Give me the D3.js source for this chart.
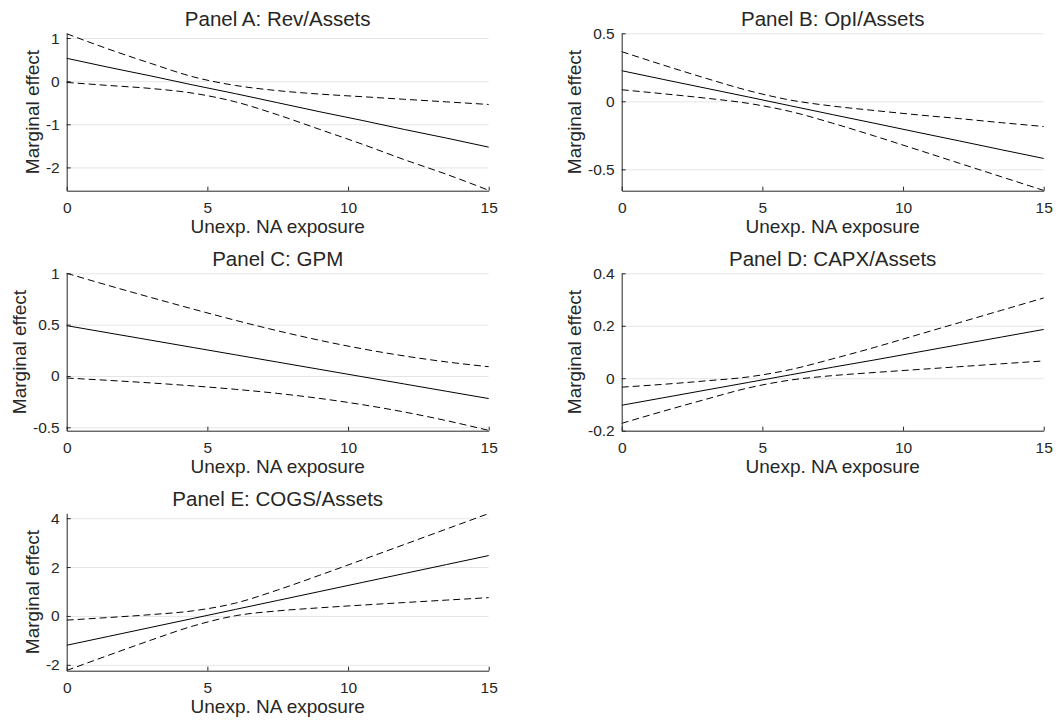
<!DOCTYPE html>
<html>
<head>
<meta charset="utf-8">
<script src="https://cdn.jsdelivr.net/npm/d3@7"></script>
<style>
  body { margin: 0; background: #fff; }
  svg text { font-family: "Liberation Sans", Arial, sans-serif; fill: #262626; }
</style>
</head>
<body>
<div id="chart"></div>
<script>
// x grid shared by all panels
const xGrid = [0, 1.5, 3, 4.5, 6, 7.5, 9, 10.5, 12, 13.5, 15];
const xTicks = [0, 5, 10, 15];

// Panel A: Rev/Assets
const revMid = [0.53, 0.32, 0.12, -0.09, -0.29, -0.50, -0.71, -0.91, -1.12, -1.32, -1.53];
const revUpper = [1.10, 0.74, 0.41, 0.10, -0.10, -0.22, -0.30, -0.36, -0.42, -0.48, -0.54];
const revLower = [-0.03, -0.10, -0.17, -0.28, -0.48, -0.78, -1.12, -1.46, -1.82, -2.16, -2.53];
const revTicks = [-2, -1, 0, 1];
const revTickLabels = ["-2", "-1", "0", "1"];

// Panel B: OpI/Assets
const opiMid = [0.225, 0.16, 0.096, 0.032, -0.033, -0.098, -0.162, -0.227, -0.291, -0.356, -0.42];
const opiUpper = [0.365, 0.265, 0.169, 0.079, 0.009, -0.035, -0.068, -0.099, -0.127, -0.157, -0.185];
const opiLower = [0.085, 0.055, 0.023, -0.015, -0.075, -0.161, -0.256, -0.355, -0.455, -0.555, -0.655];
const opiTicks = [-0.5, 0, 0.5];
const opiTickLabels = ["-0.5", "0", "0.5"];

// Panel C: GPM
const gpmMid = [0.49, 0.419, 0.348, 0.277, 0.206, 0.135, 0.064, -0.007, -0.078, -0.149, -0.22];
const gpmUpper = [1.00, 0.88, 0.764, 0.651, 0.542, 0.44, 0.347, 0.265, 0.195, 0.137, 0.09];
const gpmLower = [-0.02, -0.043, -0.068, -0.097, -0.13, -0.17, -0.219, -0.279, -0.351, -0.435, -0.53];
const gpmTicks = [-0.5, 0, 0.5, 1];
const gpmTickLabels = ["-0.5", "0", "0.5", "1"];

// Panel D: CAPX/Assets
const capxMid = [-0.103, -0.074, -0.045, -0.016, 0.013, 0.042, 0.070, 0.099, 0.128, 0.157, 0.186];
const capxUpper = [-0.034, -0.023, -0.010, 0.005, 0.033, 0.074, 0.118, 0.165, 0.212, 0.259, 0.306];
const capxLower = [-0.172, -0.125, -0.080, -0.037, -0.007, 0.010, 0.022, 0.033, 0.044, 0.055, 0.066];
const capxTicks = [-0.2, 0, 0.2, 0.4];
const capxTickLabels = ["-0.2", "0", "0.2", "0.4"];

// Panel E: COGS/Assets
const cogsMid = [-1.20, -0.833, -0.466, -0.099, 0.268, 0.635, 1.002, 1.369, 1.736, 2.103, 2.47];
const cogsUpper = [-0.17, -0.063, 0.055, 0.211, 0.526, 1.063, 1.670, 2.294, 2.924, 3.557, 4.19];
const cogsLower = [-2.23, -1.603, -0.987, -0.409, 0.010, 0.207, 0.334, 0.444, 0.548, 0.649, 0.749];
const cogsTicks = [-2, 0, 2, 4];
const cogsTickLabels = ["-2", "0", "2", "4"];

const panels = [
    { title: "Panel A: Rev/Assets", mid: revMid, upper: revUpper, lower: revLower, ticks: revTicks, labels: revTickLabels, yDomain: [-2.54, 1.11], col: 0, row: 0 },
    { title: "Panel B: OpI/Assets", mid: opiMid, upper: opiUpper, lower: opiLower, ticks: opiTicks, labels: opiTickLabels, yDomain: [-0.657, 0.5], col: 1, row: 0 },
    { title: "Panel C: GPM", mid: gpmMid, upper: gpmUpper, lower: gpmLower, ticks: gpmTicks, labels: gpmTickLabels, yDomain: [-0.533, 1.0], col: 0, row: 1 },
    { title: "Panel D: CAPX/Assets", mid: capxMid, upper: capxUpper, lower: capxLower, ticks: capxTicks, labels: capxTickLabels, yDomain: [-0.2, 0.4], col: 1, row: 1 },
    { title: "Panel E: COGS/Assets", mid: cogsMid, upper: cogsUpper, lower: cogsLower, ticks: cogsTicks, labels: cogsTickLabels, yDomain: [-2.24, 4.2], col: 0, row: 2 }
];

const colLeft = [66.7, 621.7];
const rowTop = [33.3, 273.3, 513.3];
const width = 422;
const height = 157.4;
const axisColor = "#262626";

const svg = d3.select("#chart").append("svg")
    .attr("width", 1056)
    .attr("height", 724);

panels.forEach(p => {
    const g = svg.append("g")
        .attr("transform", `translate(${colLeft[p.col]},${rowTop[p.row]})`);

    const x = d3.scaleLinear().domain([0, 15]).range([0, width]);
    const y = d3.scaleLinear().domain(p.yDomain).range([height, 0]);

    // horizontal grid
    g.append("g")
        .call(d3.axisLeft(y).tickValues(p.ticks).tickSize(-width).tickFormat(""))
        .call(s => s.select(".domain").remove())
        .call(s => s.selectAll("line").attr("stroke", "#e5e5e5"));

    // lines
    const line = d3.line()
        .x((d, i) => x(xGrid[i]))
        .y(d => y(d))
        .curve(d3.curveMonotoneX);

    [p.upper, p.lower].forEach(band => {
        g.append("path")
            .datum(band)
            .attr("d", line)
            .attr("fill", "none")
            .attr("stroke", "#000")
            .attr("stroke-width", 1)
            .attr("stroke-dasharray", "7,4");
    });
    g.append("path")
        .datum(p.mid)
        .attr("d", line)
        .attr("fill", "none")
        .attr("stroke", "#000")
        .attr("stroke-width", 1);

    // axes
    const yAxis = g.append("g")
        .call(d3.axisLeft(y).tickValues(p.ticks)
            .tickFormat((d, i) => p.labels[i])
            .tickSizeInner(-4).tickSizeOuter(0).tickPadding(7));
    yAxis.selectAll("text").style("font-size", "15.5px");

    const xAxis = g.append("g")
        .attr("transform", `translate(0,${height})`)
        .call(d3.axisBottom(x).tickValues(xTicks)
            .tickSizeInner(-4).tickSizeOuter(0).tickPadding(11));
    xAxis.selectAll("text").style("font-size", "15.5px");

    [yAxis, xAxis].forEach(a => {
        a.select(".domain").attr("stroke", axisColor);
        a.selectAll(".tick line").attr("stroke", axisColor);
    });

    // y label placed just left of the widest tick label
    let maxW = 0;
    yAxis.selectAll("text").each(function () {
        maxW = Math.max(maxW, this.getComputedTextLength());
    });
    g.append("text")
        .attr("transform", `translate(${-(7 + maxW + 7)},${height / 2}) rotate(-90)`)
        .attr("text-anchor", "middle")
        .style("font-size", "19px")
        .text("Marginal effect");

    g.append("text")
        .attr("x", width / 2)
        .attr("y", height + 42)
        .attr("text-anchor", "middle")
        .style("font-size", "19px")
        .text("Unexp. NA exposure");

    g.append("text")
        .attr("x", width / 2)
        .attr("y", -7)
        .attr("text-anchor", "middle")
        .style("font-size", "20.5px")
        .text(p.title);
});
</script>
</body>
</html>
